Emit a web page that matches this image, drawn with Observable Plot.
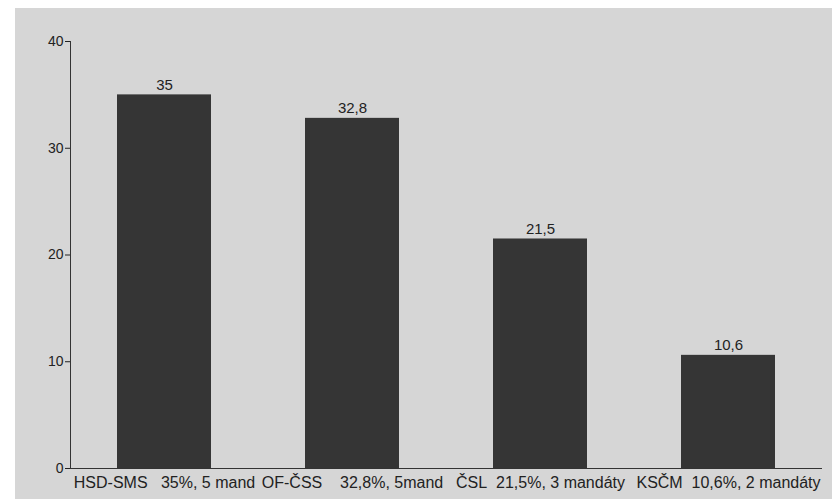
<!DOCTYPE html>
<html>
<head>
<meta charset="utf-8">
<script src="https://cdn.jsdelivr.net/npm/d3@7"></script>
<script src="https://cdn.jsdelivr.net/npm/@observablehq/plot@0.6"></script>
<style>
  html, body { margin: 0; padding: 0; background: #ffffff; }
  #wrap { position: absolute; left: 15px; top: 8px; width: 817px; height: 491px; background: #d6d6d6; }
  svg { background: transparent !important; }
</style>
</head>
<body>
<div id="wrap"></div>
<script>
const categories = [
  "HSD-SMS\u00a0\u00a0\u00a035%,\u00a05\u00a0mand",
  "OF-ČSS\u00a0\u00a0\u00a0\u00a032,8%,\u00a05mand",
  "ČSL\u00a0\u00a021,5%,\u00a03\u00a0mandáty",
  "KSČM\u00a0\u00a010,6%,\u00a02\u00a0mandáty"
];
const values = [35, 32.8, 21.5, 10.6];
const valueLabels = ["35", "32,8", "21,5", "10,6"];
const yTicks = [0, 10, 20, 30, 40];

const data = categories.map((c, i) => ({cat: c, value: values[i], label: valueLabels[i]}));

const chart = Plot.plot({
  width: 817,
  height: 491,
  marginLeft: 55,
  marginRight: 10,
  marginTop: 33,
  marginBottom: 31,
  style: {fontFamily: "'Liberation Sans', Arial, sans-serif", fontSize: "14px", color: "#222", background: "transparent"},
  x: {domain: categories, paddingInner: 0.5, paddingOuter: 0.25, label: null},
  y: {domain: [0, 40], ticks: yTicks, label: null},
  marks: [
    Plot.barY(data, {x: "cat", y: "value", fill: "#353535"}),
    Plot.text(data, {x: "cat", y: "value", text: "label", dy: -10, fontSize: 15, fill: "#222"}),
    Plot.axisX({tickSize: 0, tickPadding: 8, fontSize: 16, label: null}),
    Plot.axisY({ticks: yTicks, tickSize: 5, tickPadding: 2, fontSize: 14, label: null}),
    Plot.ruleY([0], {stroke: "#333"}),
    Plot.frame({anchor: "left", stroke: "#333"})
  ]
});
document.getElementById("wrap").appendChild(chart);
</script>
</body>
</html>
